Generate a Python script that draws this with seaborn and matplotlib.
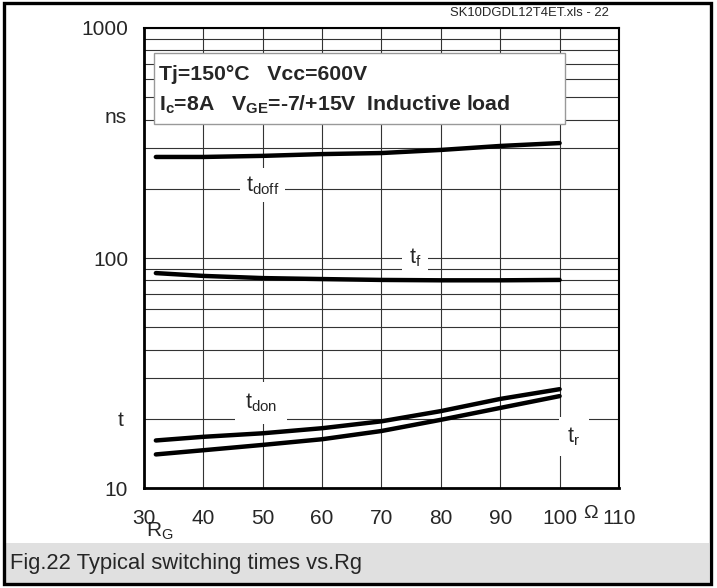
import pandas as pd
import matplotlib
matplotlib.use("Agg")
import matplotlib.pyplot as plt
import matplotlib.ticker as ticker
from matplotlib.patches import Rectangle
import seaborn as sns

# values (ns) vs gate resistance (Ohm)
rg = [32, 40, 50, 60, 70, 80, 90, 100]
t_doff = [275, 275, 278, 283, 286, 295, 307, 316]
t_f = [86, 83.6, 81.8, 81, 80.3, 80, 80, 80.3]
t_don = [16.1, 16.7, 17.3, 18.2, 19.5, 21.6, 24.4, 26.9]
t_r = [14.0, 14.6, 15.4, 16.3, 17.7, 19.8, 22.3, 25.1]

x_ticks = [30, 40, 50, 60, 70, 80, 90, 100, 110]
y_ticks = [10, 100, 1000]

df = pd.concat([
    pd.DataFrame({"Rg": rg, "t": t_doff, "curve": "tdoff"}),
    pd.DataFrame({"Rg": rg, "t": t_f, "curve": "tf"}),
    pd.DataFrame({"Rg": rg, "t": t_don, "curve": "tdon"}),
    pd.DataFrame({"Rg": rg, "t": t_r, "curve": "tr"}),
])

sns.set_style("white")
plt.rcParams["font.family"] = ["Liberation Sans", "DejaVu Sans"]
plt.rcParams["mathtext.fontset"] = "custom"
plt.rcParams["mathtext.rm"] = "Liberation Sans"
plt.rcParams["mathtext.bf"] = "Liberation Sans:bold"
plt.rcParams["mathtext.it"] = "Liberation Sans"

fig = plt.figure(figsize=(7.17, 5.88), dpi=100)
ax = fig.add_axes([0.2008, 0.17, 0.6625, 0.7824])

sns.lineplot(data=df, x="Rg", y="t", units="curve", estimator=None,
             color="black", lw=3.2, ax=ax, legend=False)

ax.set_yscale("log")
ax.set_xlim(30, 110)
ax.set_ylim(10, 1000)
ax.set_xticks(x_ticks)
ax.set_yticks(y_ticks)
ax.yaxis.set_major_formatter(ticker.FuncFormatter(lambda v, p: f"{int(v)}"))
ax.yaxis.set_minor_locator(ticker.LogLocator(base=10, subs=range(2, 10)))
ax.yaxis.set_minor_formatter(ticker.NullFormatter())
ax.set_axisbelow(True)
ax.grid(True, which="both", axis="y", color="#333333", lw=0.8)
ax.grid(True, which="major", axis="x", color="#333333", lw=0.8)
ax.tick_params(axis="both", which="both", length=0, labelsize=15)
ax.tick_params(axis="x", pad=15)
ax.tick_params(axis="y", pad=11.5)
ax.set_xlabel("")
ax.set_ylabel("")
for s in ["left", "bottom"]:
    ax.spines[s].set_linewidth(2)
for s in ["top", "right"]:
    ax.spines[s].set_linewidth(1.5)
for s in ax.spines.values():
    s.set_color("black")

# condition box
ax.add_patch(Rectangle((0.021, 0.791), 0.865, 0.155, transform=ax.transAxes,
                       facecolor="white", edgecolor="#999999", lw=1, zorder=2))
ax.text(0.032, 0.898, "Tj=150°C   Vcc=600V", transform=ax.transAxes,
        fontsize=15.3, fontweight="bold", va="center", zorder=3)
ax.text(0.032, 0.833, r"I$_\mathbf{c}$=8A   V$_\mathbf{GE}$=-7/+15V  Inductive load",
        transform=ax.transAxes, fontsize=15.3, fontweight="bold", va="center", zorder=3)

# curve labels
lab = dict(fontsize=15.5, ha="center", va="center", zorder=3)
ax.text(50, 207, r"t$_\mathrm{doff}$", bbox=dict(fc="white", ec="none", pad=4), **lab)
ax.text(75.7, 100, r"t$_\mathrm{f}$", bbox=dict(fc="white", ec="none", pad=5), **lab)
ax.text(49.7, 23.5, r"t$_\mathrm{don}$", bbox=dict(fc="white", ec="none", pad=7), **lab)
ax.text(102.4, 16.8, r"t$_\mathrm{r}$", bbox=dict(fc="white", ec="none", pad=6), **lab)

# axis annotations
ax.text(105.2, -0.056, "Ω", transform=ax.get_xaxis_transform(),
        fontsize=14, ha="center", va="center")
ax.text(32.6, -0.094, r"R$_\mathrm{G}$", transform=ax.get_xaxis_transform(),
        fontsize=15, ha="center", va="center")
ax.text(-0.059, 0.806, "ns", transform=ax.transAxes, fontsize=15, ha="center", va="center")
ax.text(-0.05, 0.147, "t", transform=ax.transAxes, fontsize=15, ha="center", va="center")

fig.text(609 / 717, 1 - 13 / 588, "SK10DGDL12T4ET.xls - 22", fontsize=9.4,
         ha="right", va="center")

# caption strip and outer frame
fig.patches.append(Rectangle((5 / 717, 4 / 588), 704 / 717, 41 / 588,
                             transform=fig.transFigure, facecolor="#e0e0e0",
                             edgecolor="none", zorder=0))
fig.text(10 / 717, 1 - 564 / 588, "Fig.22 Typical switching times vs.Rg",
         fontsize=15.8, ha="left", va="center")
fig.patches.append(Rectangle((4 / 717, 4 / 588), 707 / 717, 581 / 588,
                             transform=fig.transFigure, facecolor="none",
                             edgecolor="black", lw=2.4, zorder=5))

fig.savefig("out.png", dpi=100)
